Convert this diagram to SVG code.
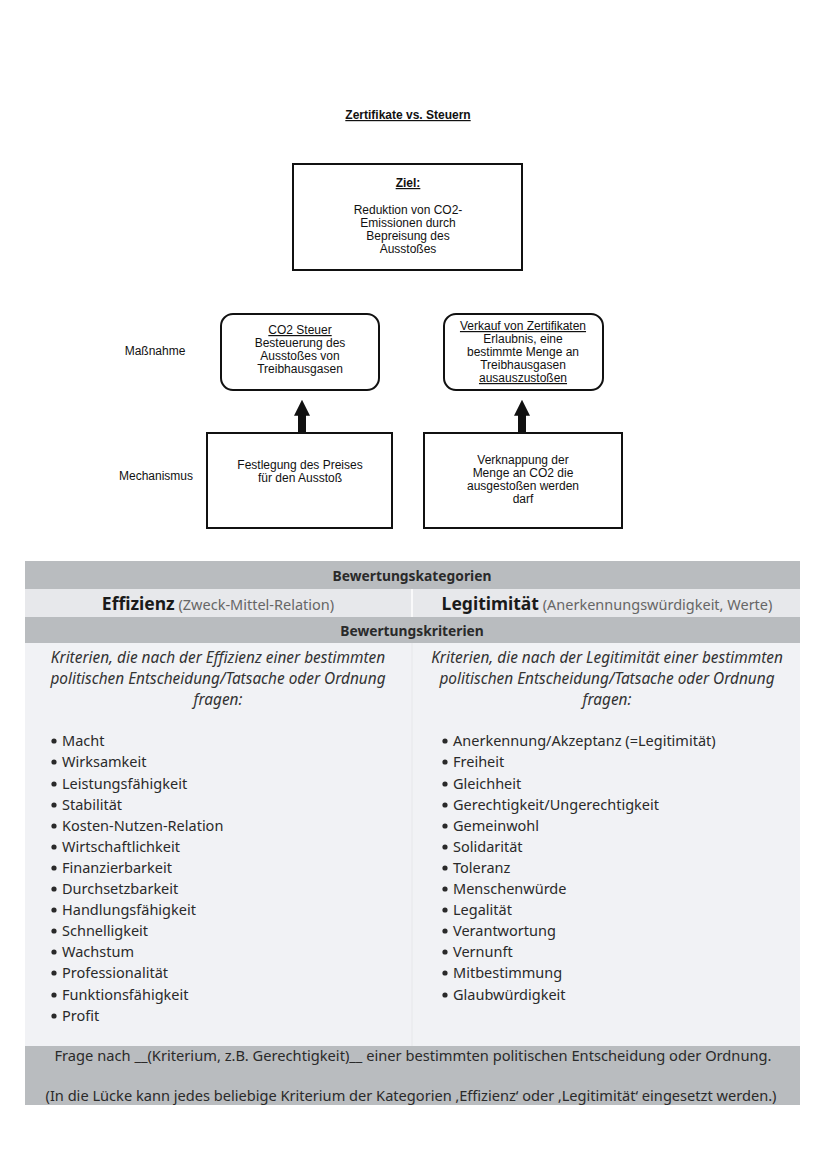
<svg xmlns="http://www.w3.org/2000/svg" width="828" height="1171" viewBox="0 0 828 1171">
<defs>
<style>
.h{font-family:"Liberation Sans",Arial,sans-serif;font-size:12px;fill:#111;text-anchor:middle}
.hb{font-weight:bold;text-decoration:underline}
.box{fill:#fff;stroke:#111;stroke-width:2}
.t{font-family:"Noto Sans","Open Sans",sans-serif;fill:#2a2a2a}
.c{text-anchor:middle}
.it{font-style:italic;font-size:15.4px;fill:#333}
.li{font-size:14.5px}
.dark{fill:#b9bcbf}
.conn{stroke:#111;stroke-width:8;fill:none}
.dot{fill:#2a2a2a}
</style>
<marker id="ah" viewBox="0 0 10 10" refX="3" refY="5" markerWidth="2" markerHeight="2" orient="auto" markerUnits="strokeWidth">
<path d="M0,0 L10,5 L0,10 Z" fill="#111"/>
</marker>
</defs>
<rect width="828" height="1171" fill="#fff"/>

<text class="h hb" x="408" y="119">Zertifikate vs. Steuern</text>

<g id="ziel">
<rect class="box" x="293" y="164" width="229" height="106"/>
<text class="h hb" x="408" y="187">Ziel:</text>
<text class="h" x="408" y="214">Reduktion von CO2-</text>
<text class="h" x="408" y="227">Emissionen durch</text>
<text class="h" x="408" y="240">Bepreisung des</text>
<text class="h" x="408" y="253">Ausstoßes</text>
</g>

<g id="label-massnahme"><text class="h" x="155" y="355">Maßnahme</text></g>
<g id="label-mechanismus"><text class="h" x="156" y="480">Mechanismus</text></g>

<g id="steuer">
<rect class="box" x="221" y="314" width="158" height="76" rx="12"/>
<text class="h" x="300" y="334" text-decoration="underline">CO2 Steuer</text>
<text class="h" x="300" y="347">Besteuerung des</text>
<text class="h" x="300" y="360">Ausstoßes von</text>
<text class="h" x="300" y="373">Treibhausgasen</text>
</g>

<g id="zertifikate">
<rect class="box" x="444" y="314" width="159" height="76" rx="12"/>
<text class="h" x="523" y="330" text-decoration="underline">Verkauf von Zertifikaten</text>
<text class="h" x="523" y="343">Erlaubnis, eine</text>
<text class="h" x="523" y="356">bestimmte Menge an</text>
<text class="h" x="523" y="369">Treibhausgasen</text>
<text class="h" x="523" y="382" text-decoration="underline">ausauszustoßen</text>
</g>

<g id="festlegung">
<rect class="box" x="207" y="433" width="185" height="95"/>
<text class="h" x="300" y="469">Festlegung des Preises</text>
<text class="h" x="300" y="482">für den Ausstoß</text>
</g>

<g id="verknappung">
<rect class="box" x="424" y="433" width="198" height="95"/>
<text class="h" x="523" y="464">Verknappung der</text>
<text class="h" x="523" y="477">Menge an CO2 die</text>
<text class="h" x="523" y="490">ausgestoßen werden</text>
<text class="h" x="523" y="503">darf</text>
</g>

<g id="connectors">
<line class="conn" x1="302" y1="432" x2="302" y2="411" marker-end="url(#ah)"/>
<line class="conn" x1="522" y1="432" x2="522" y2="411" marker-end="url(#ah)"/>
</g>

<g id="table">
<rect x="25" y="561" width="775" height="28" class="dark"/>
<rect x="25" y="589" width="775" height="28" fill="#e7e8eb"/>
<rect x="25" y="617" width="775" height="26" class="dark"/>
<rect x="25" y="643" width="775" height="403" fill="#f1f2f5"/>
<line x1="412" y1="589" x2="412" y2="617" stroke="#fff" stroke-width="1.5"/>
<line x1="412" y1="643" x2="412" y2="1046" stroke="#e6e7ea" stroke-width="1"/>
<rect x="25" y="1046" width="775" height="59" class="dark"/>

<text class="t c" x="412" y="581" font-size="13.8" font-weight="bold">Bewertungskategorien</text>
<text class="t c" x="218" y="610"><tspan font-size="17.5" font-weight="bold" fill="#1a1a1a">Effizienz</tspan><tspan font-size="14.5" fill="#666"> (Zweck-Mittel-Relation)</tspan></text>
<text class="t c" x="607" y="610"><tspan font-size="17.5" font-weight="bold" fill="#1a1a1a">Legitimität</tspan><tspan font-size="14.5" fill="#666"> (Anerkennungswürdigkeit, Werte)</tspan></text>
<text class="t c" x="412" y="636" font-size="13.8" font-weight="bold">Bewertungskriterien</text>

<text class="t c it" x="218" y="663">Kriterien, die nach der Effizienz einer bestimmten</text>
<text class="t c it" x="218" y="684">politischen Entscheidung/Tatsache oder Ordnung</text>
<text class="t c it" x="218" y="705">fragen:</text>
<text class="t c it" x="607" y="663">Kriterien, die nach der Legitimität einer bestimmten</text>
<text class="t c it" x="607" y="684">politischen Entscheidung/Tatsache oder Ordnung</text>
<text class="t c it" x="607" y="705">fragen:</text>

<g>
<circle class="dot" cx="54" cy="741" r="2.6"/><circle class="dot" cx="54" cy="762" r="2.6"/><circle class="dot" cx="54" cy="784" r="2.6"/><circle class="dot" cx="54" cy="805" r="2.6"/><circle class="dot" cx="54" cy="826" r="2.6"/><circle class="dot" cx="54" cy="847" r="2.6"/><circle class="dot" cx="54" cy="868" r="2.6"/><circle class="dot" cx="54" cy="889" r="2.6"/><circle class="dot" cx="54" cy="910" r="2.6"/><circle class="dot" cx="54" cy="931" r="2.6"/><circle class="dot" cx="54" cy="952" r="2.6"/><circle class="dot" cx="54" cy="973" r="2.6"/><circle class="dot" cx="54" cy="995" r="2.6"/><circle class="dot" cx="54" cy="1016" r="2.6"/>
<circle class="dot" cx="445" cy="741" r="2.6"/><circle class="dot" cx="445" cy="762" r="2.6"/><circle class="dot" cx="445" cy="784" r="2.6"/><circle class="dot" cx="445" cy="805" r="2.6"/><circle class="dot" cx="445" cy="826" r="2.6"/><circle class="dot" cx="445" cy="847" r="2.6"/><circle class="dot" cx="445" cy="868" r="2.6"/><circle class="dot" cx="445" cy="889" r="2.6"/><circle class="dot" cx="445" cy="910" r="2.6"/><circle class="dot" cx="445" cy="931" r="2.6"/><circle class="dot" cx="445" cy="952" r="2.6"/><circle class="dot" cx="445" cy="973" r="2.6"/><circle class="dot" cx="445" cy="995" r="2.6"/>
</g>

<g class="t li">
<text x="62" y="746">Macht</text>
<text x="62" y="767">Wirksamkeit</text>
<text x="62" y="789">Leistungsfähigkeit</text>
<text x="62" y="810">Stabilität</text>
<text x="62" y="831">Kosten-Nutzen-Relation</text>
<text x="62" y="852">Wirtschaftlichkeit</text>
<text x="62" y="873">Finanzierbarkeit</text>
<text x="62" y="894">Durchsetzbarkeit</text>
<text x="62" y="915">Handlungsfähigkeit</text>
<text x="62" y="936">Schnelligkeit</text>
<text x="62" y="957">Wachstum</text>
<text x="62" y="978">Professionalität</text>
<text x="62" y="1000">Funktionsfähigkeit</text>
<text x="62" y="1021">Profit</text>

<text x="453" y="746">Anerkennung/Akzeptanz (=Legitimität)</text>
<text x="453" y="767">Freiheit</text>
<text x="453" y="789">Gleichheit</text>
<text x="453" y="810">Gerechtigkeit/Ungerechtigkeit</text>
<text x="453" y="831">Gemeinwohl</text>
<text x="453" y="852">Solidarität</text>
<text x="453" y="873">Toleranz</text>
<text x="453" y="894">Menschenwürde</text>
<text x="453" y="915">Legalität</text>
<text x="453" y="936">Verantwortung</text>
<text x="453" y="957">Vernunft</text>
<text x="453" y="978">Mitbestimmung</text>
<text x="453" y="1000">Glaubwürdigkeit</text>
</g>

<text class="t c" x="413" y="1061" font-size="14" textLength="717" lengthAdjust="spacingAndGlyphs">Frage nach __(Kriterium, z.B. Gerechtigkeit)__ einer bestimmten politischen Entscheidung oder Ordnung.</text>
<text class="t c" x="411" y="1101" font-size="14" textLength="731" lengthAdjust="spacingAndGlyphs">(In die Lücke kann jedes beliebige Kriterium der Kategorien ‚Effizienz‘ oder ‚Legitimität‘ eingesetzt werden.)</text>
</g>
</svg>
